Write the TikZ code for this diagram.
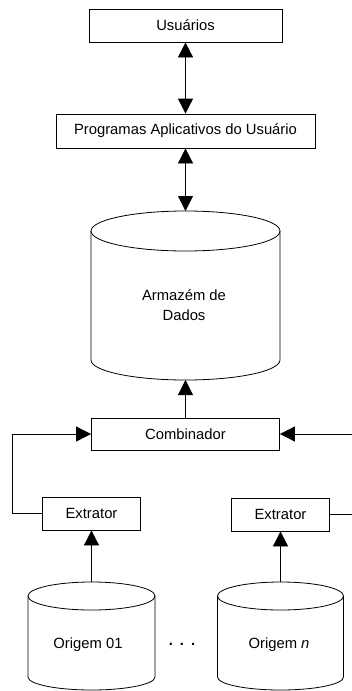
\documentclass[tikz,border=0pt]{standalone}
\usepackage{fontspec}
\setmainfont{Liberation Sans}
\usetikzlibrary{arrows.meta}
\begin{document}
\begin{tikzpicture}[x=1pt,y=-1pt,
  line width=0.8pt,
  every node/.style={font=\fontsize{14.8}{20}\selectfont},
  box/.style={draw, rectangle, inner sep=0pt},
  tip/.style={-{Triangle[length=15pt,width=15pt]}},
  twoway/.style={{Triangle[length=15pt,width=15pt]}-{Triangle[length=15pt,width=15pt]}}]
\useasboundingbox (0,0) rectangle (352,691);

% upper chain
\node[box, minimum width=193pt, minimum height=33pt] (usu) at (185.5,25.5) {Usuários};
\node[box, minimum width=259pt, minimum height=34pt] (prog) at (185.5,131) {Programas Aplicativos do Usuário};

% data warehouse cylinder
\draw (91,231) -- (91,360) arc[start angle=180,end angle=360,x radius=94.5pt,y radius=20pt] -- (280,231);
\draw (185.5,231) ellipse[x radius=94.5pt,y radius=20pt];
\coordinate (armtop) at (185.5,211);
\coordinate (armbot) at (185.5,380);
\node[align=center] (arm) at (184,305) {Armazém de\\Dados};

% combiner and extractors
\node[box, minimum width=188pt, minimum height=32pt] (comb) at (185.5,434) {Combinador};
\node[box, minimum width=98pt, minimum height=33pt] (ext1) at (91.5,513.5) {Extrator};
\node[box, minimum width=98pt, minimum height=33pt] (ext2) at (280.5,514.5) {Extrator};

% source cylinders
\draw (28,596) -- (28,677) arc[start angle=180,end angle=360,x radius=63.5pt,y radius=13pt] -- (155,596);
\draw (91.5,596) ellipse[x radius=63.5pt,y radius=14pt];
\coordinate (org1top) at (91.5,582);
\node (org1) at (88,645) {Origem 01};

\draw (217.5,596) -- (217.5,677) arc[start angle=180,end angle=360,x radius=63pt,y radius=13pt] -- (343.5,596);
\draw (280.5,596) ellipse[x radius=63pt,y radius=14pt];
\coordinate (org2top) at (280.5,582);
\node (org2) at (279,645) {Origem \textit{n}};

\node (dots) at (182,644) {\bfseries .\hspace{7pt}.\hspace{7pt}.};

% connectors
\draw[twoway] (usu.south) -- (prog.north);
\draw[twoway] (prog.south) -- (armtop);
\draw[tip] (comb.north) -- (armbot);
\draw[tip] (ext1.west) -- ++(-30,0) |- (comb.west);
\coordinate (rin) at (354,434);
\coordinate (rout) at (354,514.5);
\draw[tip] (rin) -- (comb.east);
\draw (ext2.east) -- (rout);
\draw[tip] (org1top) -- (ext1.south);
\draw[tip] (org2top) -- (ext2.south);
\end{tikzpicture}
\end{document}
